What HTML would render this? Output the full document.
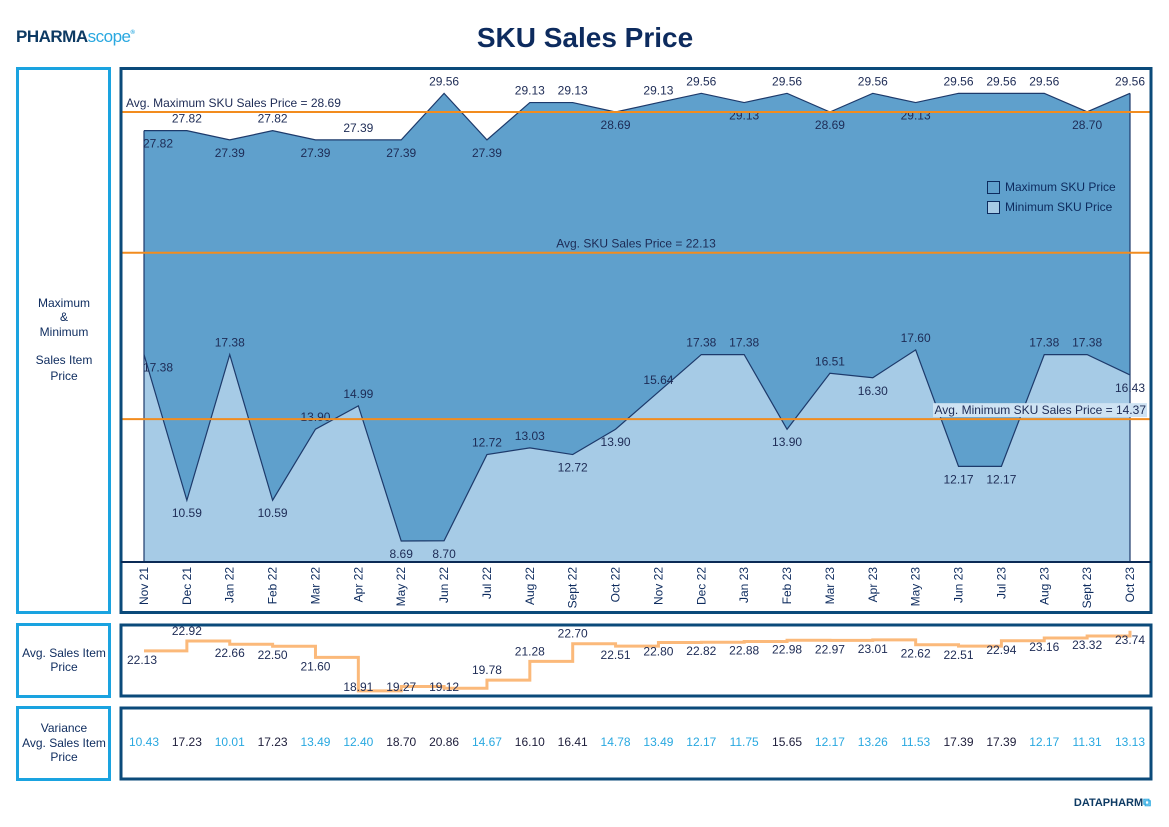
<!DOCTYPE html>
<html><head><meta charset="utf-8">
<style>
body{margin:0;background:#fff;font-family:"Liberation Sans",sans-serif;}
svg{display:block}
text{font-family:"Liberation Sans",sans-serif;}
</style></head>
<body>
<svg id="root" width="1169" height="827" viewBox="0 0 1169 827">
  <g>
    <text x="16" y="42" font-size="17" font-weight="bold" fill="#0d3a63" letter-spacing="-0.5">PHARMA<tspan fill="#29a8e0" font-weight="normal">scope</tspan><tspan font-size="6" fill="#29a8e0" dy="-8">®</tspan></text>
  </g>
  <text x="585" y="47" text-anchor="middle" font-size="28" font-weight="bold" fill="#0d2b5e">SKU Sales Price</text>

  <rect x="17.5" y="68.5" width="92" height="544" fill="none" stroke="#1aa3e0" stroke-width="3"/>
  <text font-size="12" fill="#0d2b5e" text-anchor="middle">
    <tspan x="64" y="307">Maximum</tspan><tspan x="64" y="321">&amp;</tspan><tspan x="64" y="336">Minimum</tspan><tspan x="64" y="364">Sales Item</tspan><tspan x="64" y="380">Price</tspan>
  </text>
  <rect x="17.5" y="624.5" width="92" height="72" fill="none" stroke="#1aa3e0" stroke-width="3"/>
  <text font-size="12" fill="#0d2b5e" text-anchor="middle"><tspan x="64" y="657">Avg. Sales Item</tspan><tspan x="64" y="671">Price</tspan></text>
  <rect x="17.5" y="707.5" width="92" height="72" fill="none" stroke="#1aa3e0" stroke-width="3"/>
  <text font-size="12" fill="#0d2b5e" text-anchor="middle"><tspan x="64" y="732">Variance</tspan><tspan x="64" y="747">Avg. Sales Item</tspan><tspan x="64" y="761">Price</tspan></text>

  <g id="main"></g>
  <g id="avg"></g>
  <g id="var"></g>

  <rect x="121" y="68.5" width="1030" height="544" fill="none" stroke="#0b4a7a" stroke-width="3"/>
  <line x1="121" y1="562" x2="1151" y2="562" stroke="#0b2a55" stroke-width="2"/>
  <rect x="121" y="625" width="1030" height="71" fill="none" stroke="#0b4a7a" stroke-width="3"/>
  <rect x="121" y="708" width="1030" height="71" fill="none" stroke="#0b4a7a" stroke-width="3"/>

  <g>
    <rect x="987.5" y="181.5" width="12" height="12" fill="#5fa0cc" stroke="#0d2b5e"/>
    <text x="1005" y="191" font-size="12" fill="#0d2b5e">Maximum SKU Price</text>
    <rect x="987.5" y="201.5" width="12" height="12" fill="#a6cbe6" stroke="#0d2b5e"/>
    <text x="1005" y="211" font-size="12" fill="#0d2b5e">Minimum SKU Price</text>
  </g>
  <text x="1151" y="806" text-anchor="end" font-size="11" font-weight="bold" fill="#0d3a63">DATAPHARM<tspan fill="#29a8e0">⧉</tspan></text>
</svg>
<script>
const categories = ["Nov 21","Dec 21","Jan 22","Feb 22","Mar 22","Apr 22","May 22","Jun 22","Jul 22","Aug 22","Sept 22","Oct 22","Nov 22","Dec 22","Jan 23","Feb 23","Mar 23","Apr 23","May 23","Jun 23","Jul 23","Aug 23","Sept 23","Oct 23"];
const maxPrice = [27.82,27.82,27.39,27.82,27.39,27.39,27.39,29.56,27.39,29.13,29.13,28.69,29.13,29.56,29.13,29.56,28.69,29.56,29.13,29.56,29.56,29.56,28.70,29.56];
const minPrice = [17.38,10.59,17.38,10.59,13.90,14.99,8.69,8.70,12.72,13.03,12.72,13.90,15.64,17.38,17.38,13.90,16.51,16.30,17.60,12.17,12.17,17.38,17.38,16.43];
const avgMax = 28.69;
const avgAll = 22.13;
const avgMin = 14.37;
const avgPrice = [22.13,22.92,22.66,22.50,21.60,18.91,19.27,19.12,19.78,21.28,22.70,22.51,22.80,22.82,22.88,22.98,22.97,23.01,22.62,22.51,22.94,23.16,23.32,23.74];
const variance = [10.43,17.23,10.01,17.23,13.49,12.40,18.70,20.86,14.67,16.10,16.41,14.78,13.49,12.17,11.75,15.65,12.17,13.26,11.53,17.39,17.39,12.17,11.31,13.13];

const NS="http://www.w3.org/2000/svg";
function mk(tag, attrs, parent, txt){const e=document.createElementNS(NS,tag);for(const k in attrs)e.setAttribute(k,attrs[k]);if(txt!==undefined)e.textContent=txt;parent.appendChild(e);return e;}
const n=categories.length;
const x0=144, x1=1130;
const xs=i=>x0+i*(x1-x0)/(n-1);
const ys=v=>112+(28.69-v)*21.45;
const yAvg=v=>641+(22.92-v)*12.45;
const main=document.getElementById('main');
const fmt=v=>v.toFixed(2);

let d=`M${xs(0)},562 `+maxPrice.map((v,i)=>`L${xs(i)},${ys(v)}`).join(' ')+` L${xs(n-1)},562 Z`;
const aMax=mk('path',{d,fill:'#5fa0cc',stroke:'none'},main);


d=`M${xs(0)},562 `+minPrice.map((v,i)=>`L${xs(i)},${ys(v)}`).join(' ')+` L${xs(n-1)},562 Z`;
const aMin=mk('path',{d,fill:'#a6cbe6',stroke:'none'},main);


const lMax=mk('polyline',{points:maxPrice.map((v,i)=>xs(i)+','+ys(v)).join(' '),fill:'none',stroke:'#1d3a6b','stroke-width':1.2},main);


const lMin=mk('polyline',{points:minPrice.map((v,i)=>xs(i)+','+ys(v)).join(' '),fill:'none',stroke:'#1d3a6b','stroke-width':1.2},main);


const edges=mk('path',{d:`M${xs(0)},${ys(maxPrice[0])} L${xs(0)},562 M${xs(n-1)},${ys(maxPrice[n-1])} L${xs(n-1)},562`,stroke:'#1d3a6b','stroke-width':1.2,fill:'none'},main);



function labelSeries(arr,name){
  arr.forEach((v,i)=>{
    const prev=i>0?arr[i-1]:v, next=i<n-1?arr[i+1]:v;
    const above = v>=(prev+next)/2 && i>0;
    const y = above? ys(v)-8 : ys(v)+17;
    const t=mk('text',{x:xs(i)+(i===0?14:0),y,'font-size':12,fill:'#1d2b55','text-anchor':'middle'},main,fmt(v));
    
    
  });
}
labelSeries(maxPrice,'max-price');
labelSeries(minPrice,'min-price');

[[avgMax,'Avg. Maximum SKU Sales Price = ','start',126,'avg-max-line'],[avgAll,'Avg. SKU Sales Price = ','middle',636,'avg-price-line'],[avgMin,'Avg. Minimum SKU Sales Price = ','end',1146,'avg-min-line']].forEach(r=>{
  const y=ys(r[0]);
  const l=mk('line',{x1:121,x2:1151,y1:y,y2:y,stroke:'#f28c1e','stroke-width':2},main);
  
  
  if(r[4]==='avg-min-line'){const b=mk('rect',{x:933,y:y-16,width:214,height:14,fill:'#cfe3f3'},main);
    
    }
  const t=mk('text',{x:r[3],y:y-5,'font-size':12,fill:'#1d2b55','text-anchor':r[2]},main,r[1]+fmt(r[0]));
  
  
});

categories.forEach((c,i)=>{
  const t=mk('text',{x:0,y:0,'font-size':12,fill:'#0d2b5e','text-anchor':'end',transform:`translate(${xs(i)+4},567) rotate(-90)`},main,c);
  
  
});

// avg step line: segment i spans xs(i)..xs(i+1); last value shown as end tick
const avg=document.getElementById('avg');
let pts=[];
avgPrice.forEach((v,i)=>{
  if(i<n-1){pts.push(xs(i)+','+yAvg(v));pts.push(xs(i+1)+','+yAvg(v));}
  else{pts.push(xs(i)+','+yAvg(v));}
});
const st=mk('polyline',{points:pts.join(' '),fill:'none',stroke:'#fbb97a','stroke-width':3},avg);


avgPrice.forEach((v,i)=>{
  const up = i>0 && i<n-1 && v-avgPrice[i-1]>0.5;
  const y = up? yAvg(v)-6 : Math.min(yAvg(v)+13,691);
  const t=mk('text',{x:xs(i)+(i===0?-2:0),y,'font-size':12,fill:'#1d2b55','text-anchor':'middle'},avg,fmt(v));
  
  
});

const vg=document.getElementById('var');
variance.forEach((v,i)=>{
  const t=mk('text',{x:xs(i),y:746,'font-size':12,fill:v>15?'#1d1d3a':'#29a8e0','text-anchor':'middle'},vg,fmt(v));
  
  
});
</script>
</body></html>
